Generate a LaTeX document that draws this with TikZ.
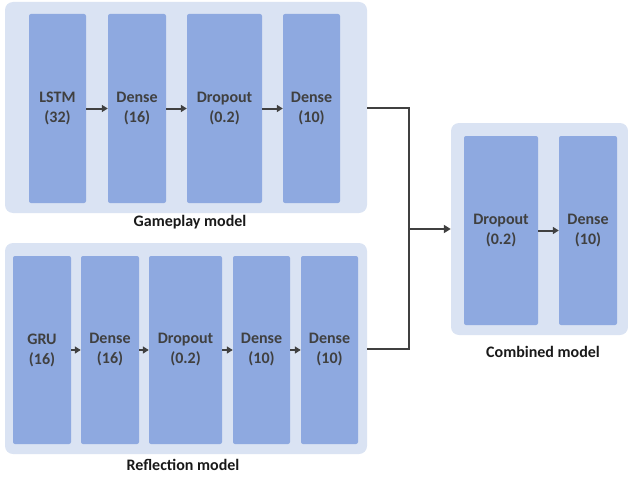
\documentclass[tikz,border=0pt]{standalone}
\usepackage{fontspec}
\setmainfont{Carlito}
\usetikzlibrary{arrows.meta}

\definecolor{groupfill}{HTML}{DAE3F3}
\definecolor{layerfill}{HTML}{8EA9E0}
\definecolor{inktext}{HTML}{404040}

\begin{document}
\begin{tikzpicture}[
		x=1pt, y=-1pt,
		every node/.style={inner sep=0pt, font=\bfseries\fontsize{16}{20}\selectfont},
		groupbox/.style={rectangle, rounded corners=8pt, fill=groupfill},
		layerbox/.style={rectangle, rounded corners=2pt, fill=layerfill, text=inktext, align=center},
		caption/.style={text=black!90},
		flow/.style={draw=inktext, line width=2pt, -{Triangle[length=6pt,width=7pt]}},
		wire/.style={draw=inktext, line width=2pt}
	]
  \useasboundingbox (0,0) rectangle (628,476);
  % containers
  \node (G) [groupbox, minimum width=362pt, minimum height=211pt] at (186,107.5) {};
  \node (R) [groupbox, minimum width=362pt, minimum height=211pt] at (186,348.5) {};
  \node (C) [groupbox, minimum width=177pt, minimum height=212pt] at (539.5,229) {};
  % gameplay model
  \node (g_lstm) [layerbox, minimum width=57pt, minimum height=189pt] at (57.5,108.5) {LSTM\\(32)};
  \node (g_dense1) [layerbox, minimum width=58pt, minimum height=189pt] at (137,108.5) {Dense\\(16)};
  \node (g_drop) [layerbox, minimum width=75pt, minimum height=189pt] at (224.5,108.5) {Dropout\\(0.2)};
  \node (g_dense2) [layerbox, minimum width=57pt, minimum height=189pt] at (311.5,108.5) {Dense\\(10)};
  \node (G_label) [caption] at (190,222) {Gameplay model};
  % reflection model
  \node (r_gru) [layerbox, minimum width=58pt, minimum height=188pt] at (42,350) {GRU\\(16)};
  \node (r_dense1) [layerbox, minimum width=58pt, minimum height=188pt] at (110,350) {Dense\\(16)};
  \node (r_drop) [layerbox, minimum width=73pt, minimum height=188pt] at (185.5,350) {Dropout\\(0.2)};
  \node (r_dense2) [layerbox, minimum width=57pt, minimum height=188pt] at (261.5,350) {Dense\\(10)};
  \node (r_dense3) [layerbox, minimum width=57pt, minimum height=188pt] at (329.5,350) {Dense\\(10)};
  \node (R_label) [caption] at (183,465) {Reflection model};
  % combined model
  \node (c_drop) [layerbox, minimum width=74pt, minimum height=189pt] at (501,230.5) {Dropout\\(0.2)};
  \node (c_dense) [layerbox, minimum width=58pt, minimum height=189pt] at (588,230.5) {Dense\\(10)};
  \node (C_label) [caption] at (543,352) {Combined model};
  \coordinate (join) at (409,229);
  \draw [flow] (g_lstm) -- (g_dense1);
  \draw [flow] (g_dense1) -- (g_drop);
  \draw [flow] (g_drop) -- (g_dense2);
  \draw [flow, line width=1.5pt] (r_gru) -- (r_dense1);
  \draw [flow, line width=1.5pt] (r_dense1) -- (r_drop);
  \draw [flow, line width=1.5pt] (r_drop) -- (r_dense2);
  \draw [flow, line width=1.5pt] (r_dense2) -- (r_dense3);
  \draw [flow] (c_drop) -- (c_dense);
  \draw [wire] (G.east) -| (join);
  \draw [wire] (R.east) -| (join);
  \draw [wire, -{Triangle[length=7pt,width=8pt]}] (join) -- (C.west);
\end{tikzpicture}
\end{document}
